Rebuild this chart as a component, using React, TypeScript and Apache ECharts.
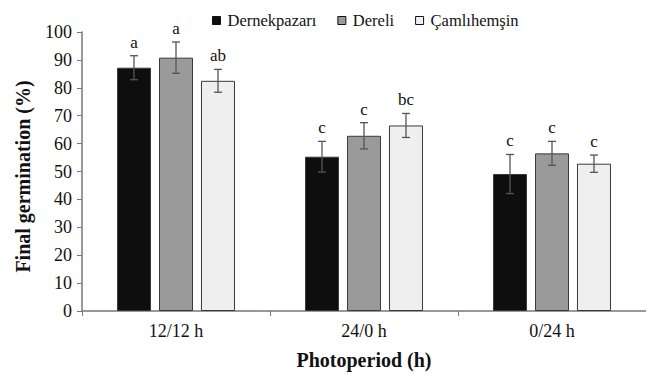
import React, { useEffect, useRef } from "react";
import * as echarts from "echarts";

const categories = ["12/12 h", "24/0 h", "0/24 h"];
const seriesNames = ["Dernekpazarı", "Dereli", "Çamlıhemşin"];
const dernekpazari = [87.2, 55.3, 49.1];
const dereli = [90.8, 62.8, 56.5];
const camlihemsin = [82.5, 66.5, 52.8];
const errDernekpazari = [4.3, 5.5, 7.0];
const errDereli = [5.6, 4.7, 4.3];
const errCamlihemsin = [4.1, 4.3, 3.1];
const lettersDernekpazari = ["a", "c", "c"];
const lettersDereli = ["a", "c", "c"];
const lettersCamlihemsin = ["ab", "bc", "c"];
const yTicks = [0, 10, 20, 30, 40, 50, 60, 70, 80, 90, 100];

const FONT = "Times New Roman, Liberation Serif, serif";

export default function App() {
  const ref = useRef<HTMLDivElement>(null);
  useEffect(() => {
    if (!ref.current) return;
    const chart = echarts.init(ref.current, undefined, { renderer: "svg" });
    const values = [dernekpazari, dereli, camlihemsin];
    const errs = [errDernekpazari, errDereli, errCamlihemsin];
    const letters = [lettersDernekpazari, lettersDereli, lettersCamlihemsin];
    const colors = ["#0e0e0e", "#9a9a9a", "#efefef"];
    const BAR_W = 34;
    const STEP = 42;

    const errData: any[] = [];
    values.forEach((vals, s) => {
      vals.forEach((v, c) => {
        errData.push([c, v, errs[s][c], s, letters[s][c]]);
      });
    });

    const barSeries = values.map((vals, s) => ({
      name: seriesNames[s],
      type: "bar",
      data: vals,
      barWidth: BAR_W,
      barGap: "23.5%",
      itemStyle: {
        color: colors[s],
        borderColor: "#3a3a3a",
        borderWidth: 1,
      },
    }));

    chart.setOption({
      animation: false,
      textStyle: { fontFamily: FONT },
      legend: {
        data: seriesNames.map((n, i) => ({
          name: n,
          itemStyle: { color: colors[i], borderColor: "#111", borderWidth: 1 },
        })),
        left: 207,
        top: 7,
        itemWidth: 8,
        itemHeight: 8,
        itemGap: 21,
        icon: "rect",
        textStyle: { fontFamily: FONT, fontSize: 16.5, color: "#111", padding: [0, 0, 0, 2] },
      },
      grid: { left: 82, right: 0, top: 32, bottom: 62 },
      xAxis: {
        type: "category",
        data: categories,
        axisLine: { lineStyle: { color: "#777", width: 1.5 } },
        axisTick: { show: true, length: 5, lineStyle: { color: "#777" } },
        axisLabel: { fontFamily: FONT, fontSize: 18, color: "#111", margin: 11 },
        name: "Photoperiod (h)",
        nameLocation: "middle",
        nameGap: 39,
        nameTextStyle: { fontFamily: FONT, fontSize: 20, fontWeight: "bold", color: "#111" },
      },
      yAxis: {
        type: "value",
        min: 0,
        max: 100,
        interval: 10,
        splitLine: { show: false },
        axisLine: { show: true, lineStyle: { color: "#777", width: 1.5 } },
        axisTick: { show: true, length: 5, lineStyle: { color: "#777" } },
        axisLabel: {
          fontFamily: FONT,
          fontSize: 18,
          color: "#111",
          margin: 10,
          formatter: (v: number) => (yTicks.includes(v) ? String(v) : ""),
        },
        name: "Final germination (%)",
        nameLocation: "middle",
        nameGap: 49,
        nameTextStyle: { fontFamily: FONT, fontSize: 20, fontWeight: "bold", color: "#111", padding: [0, 10, 0, 0] },
      },
      series: [
        ...barSeries,
        {
          type: "custom",
          name: "err",
          z: 10,
          silent: true,
          data: errData,
          renderItem: (params: any, api: any) => {
            const c = api.value(0);
            const v = api.value(1);
            const e = api.value(2);
            const s = api.value(3);
            const letter = errData[params.dataIndex][4];
            const top = api.coord([c, v + e]);
            const bot = api.coord([c, v - e]);
            const x = top[0] + (s - 1) * STEP;
            const cap = 4;
            const st = { stroke: "#555", lineWidth: 1.3 };
            return {
              type: "group",
              children: [
                { type: "line", shape: { x1: x, y1: top[1], x2: x, y2: bot[1] }, style: st },
                { type: "line", shape: { x1: x - cap, y1: top[1], x2: x + cap, y2: top[1] }, style: st },
                { type: "line", shape: { x1: x - cap, y1: bot[1], x2: x + cap, y2: bot[1] }, style: st },
                {
                  type: "text",
                  x: x,
                  y: top[1] - 5,
                  style: {
                    text: letter,
                    textAlign: "center",
                    textVerticalAlign: "bottom",
                    fontFamily: FONT,
                    fontSize: 17,
                    fill: "#111",
                  },
                },
              ],
            };
          },
        },
      ],
    });
    return () => chart.dispose();
  }, []);
  return (
    <div
      ref={ref}
      style={{ position: "fixed", left: 0, top: 0, width: 646, height: 375, background: "#fff" }}
    />
  );
}
